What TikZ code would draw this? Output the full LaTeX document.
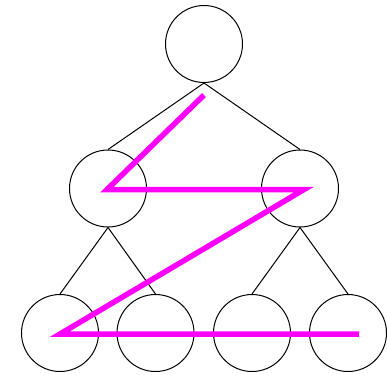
\documentclass[tikz,border=0pt]{standalone}
\usepackage{xcolor}
\definecolor{TraceMagenta}{HTML}{FF00FF}
\usepackage{tikz}
\usetikzlibrary{positioning}

\begin{document}
\begin{tikzpicture}[x=1pt,y=-1pt,
vertex/.style={draw=black,circle,minimum size=77pt,inner sep=0pt,line width=1pt},
edge/.style={draw=black,line width=1pt},
trace/.style={draw=TraceMagenta,line width=5.5pt}]
\useasboundingbox (0,0) rectangle (387,374);
\node[vertex] (root) at (204,44) {};
\node[vertex] (left) at (108,188.5) {};
\node[vertex] (right) at (300,188.5) {};
\node[vertex] (ll) at (60,333) {};
\node[vertex] (lr) at (155.5,333) {};
\node[vertex] (rl) at (252,333) {};
\node[vertex] (rr) at (348,333) {};
\draw[edge] (root.south) -- (left.north);
\draw[edge] (root.south) -- (right.north);
\draw[edge] (left.south) -- (ll.north);
\draw[edge] (left.south) -- (lr.north);
\draw[edge] (right.south) -- (rl.north);
\draw[edge] (right.south) -- (rr.north);
% level-order walk
\draw[trace] ([yshift=-51pt]root.center) -- ([xshift=-1pt,yshift=-1pt]left.center)
  -- ([xshift=4pt,yshift=-1pt]right.center) -- ([xshift=0pt,yshift=-1pt]ll.center)
  -- ([xshift=11pt,yshift=-1pt]rr.center);
\end{tikzpicture}
\end{document}
